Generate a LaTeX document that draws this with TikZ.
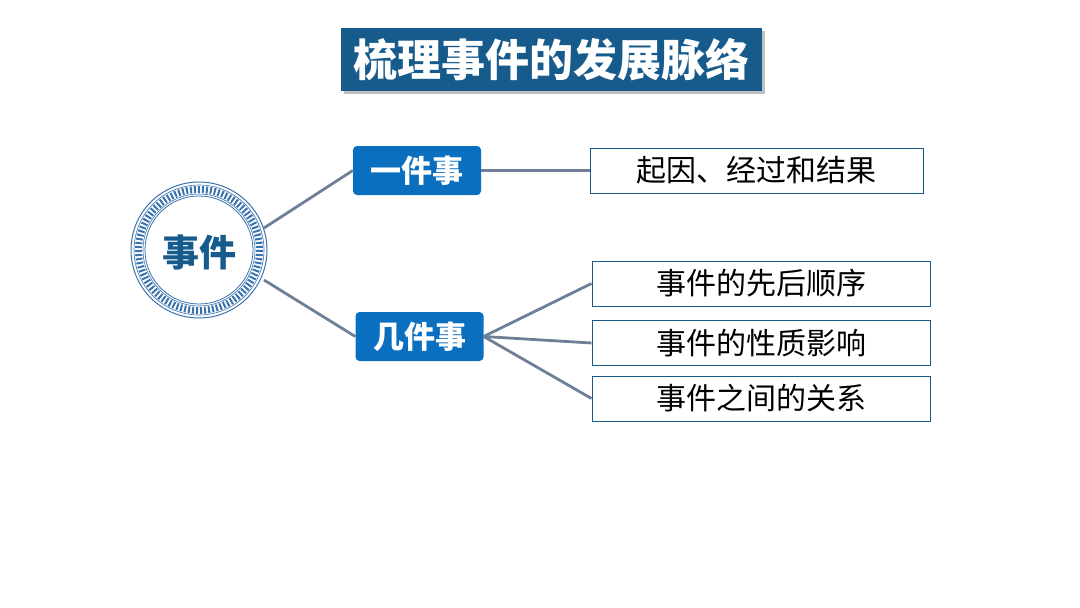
\documentclass[tikz,border=0pt]{standalone}
\usepackage{fontspec}
\newfontfamily\cjk{Noto Sans CJK SC}
\definecolor{tblue}{HTML}{175A8C}
\definecolor{bblue}{HTML}{0B6FC0}
\definecolor{lgray}{HTML}{6E7F96}
\definecolor{rblue}{HTML}{3A72AE}
\begin{document}
\begin{tikzpicture}[x=1pt,y=-1pt,
 conn/.style={draw=lgray,line width=2.8pt},
 midbox/.style={fill=bblue,rounded corners=4pt,minimum width=128pt,minimum height=49pt,text=white,font=\cjk\bfseries\fontsize{31}{33}\selectfont,inner sep=0pt},
 leaf/.style={draw=tblue,line width=1pt,minimum height=45pt,font=\cjk\fontsize{30}{32}\selectfont,inner sep=0pt}]
\useasboundingbox (0,0) rectangle (1080,608);
\fill[gray!50] (344,31) rectangle (765,94);
\node[fill=tblue,minimum width=421pt,minimum height=63pt,inner sep=0pt,text=white,font=\cjk\bfseries\fontsize{44}{46}\selectfont] (title) at (551.5,59.5) {梳理事件的发展脉络};
% circle
\node[circle,draw=rblue,line width=1pt,minimum size=136pt,inner sep=0pt] (c) at (199,250) {};
\draw[rblue,line width=0.6pt] (199,250) circle (65);
\draw[rblue,line width=7pt,dash pattern=on 2pt off 2pt] (199,250) circle (60.5);
\draw[rblue,line width=0.6pt] (199,250) circle (56);
\draw[rblue,line width=0.8pt] (199,250) circle (54);
\node[font=\cjk\bfseries\fontsize{37}{39}\selectfont,text=tblue] at (199,252) {事件};
\node[midbox] (a) at (417,170.5) {一件事};
\node[midbox] (b) at (419.5,336.5) {几件事};
\node[leaf,minimum width=333pt] (l1) at (756.5,170.5) {起因、经过和结果};
\node[leaf,minimum width=338pt] (l2) at (761,283.5) {事件的先后顺序};
\node[leaf,minimum width=338pt] (l3) at (761,343) {事件的性质影响};
\node[leaf,minimum width=338pt] (l4) at (761,398.5) {事件之间的关系};
\coordinate (c1) at (264,228);
\coordinate (c2) at (264,280);
\draw[conn] (c1) -- (a.west);
\draw[conn] (c2) -- (b.west);
\draw[conn] (a.east) -- (l1.west);
\draw[conn] (b.east) -- (l2.west);
\draw[conn] (b.east) -- (l3.west);
\draw[conn] (b.east) -- (l4.west);
\end{tikzpicture}
\end{document}
